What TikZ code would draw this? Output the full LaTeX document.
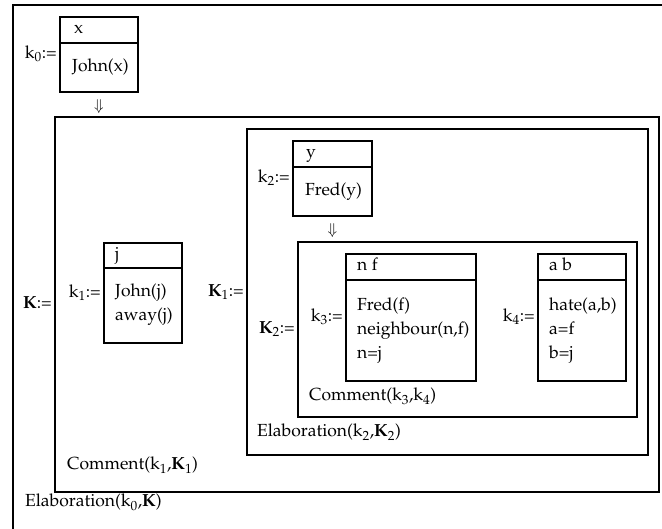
\documentclass[tikz,border=0pt]{standalone}
\usepackage[T1]{fontenc}
\usepackage{mathpazo}
\begin{document}
\begin{tikzpicture}[x=1pt,y=-1pt,
  font=\fontsize{17.5}{21}\selectfont,
  rule/.style={line width=2.6pt},
  drs/.style={draw, rule, rectangle, inner sep=0pt, outer sep=0pt, anchor=north west},
  txt/.style={inner sep=0pt, anchor=base west},
  lbl/.style={inner sep=0pt, anchor=east, text height=12.5pt, text depth=4.4pt, xshift=-3pt},
  dn/.style={inner sep=0pt, font=\fontsize{15}{18}\selectfont}]
\useasboundingbox (0,0) rectangle (662,529);
\clip (0,0) rectangle (662,529);

% outermost frame (runs off the page on the right and at the bottom)
\node[drs, minimum width=680pt, minimum height=560pt] (top) at (13,5) {};

% k0 box
\node[drs, minimum width=78pt, minimum height=75pt] (k0) at (60,17) {};
\draw[rule] ([yshift=-26pt]k0.north west) -- ([yshift=-26pt]k0.north east);
\node[txt] (k0h) at (74,34) {x};
\node[txt] (k0b1) at (72,72) {John(x)};
\node[lbl] (k0l) at (k0.west) {k$_0$:=};
\node[dn] (a0) at ([yshift=-15pt]k0.south) {$\Downarrow$};

% K box
\node[drs, minimum width=604pt, minimum height=375pt] (K) at (55,117) {};
\node[lbl] (Kl) at (K.west) {\textbf{K}:=};

% k1 box
\node[drs, minimum width=78pt, minimum height=100pt] (k1) at (104,243) {};
\draw[rule] ([yshift=-25pt]k1.north west) -- ([yshift=-25pt]k1.north east);
\node[txt] (k1h) at (115,260) {j};
\node[txt] (k1b1) at (115,297) {John(j)};
\node[txt] (k1b2) at (115,321) {away(j)};
\node[lbl] (k1l) at (k1.west) {k$_1$:=};

% K1 box
\node[drs, minimum width=401pt, minimum height=326pt] (K1) at (247,129) {};
\node[lbl] (K1l) at (K1.west) {\textbf{K}$_1$:=};

% k2 box
\node[drs, minimum width=79pt, minimum height=75pt] (k2) at (293,141) {};
\draw[rule] ([yshift=-26pt]k2.north west) -- ([yshift=-26pt]k2.north east);
\node[txt] (k2h) at (306,158) {y};
\node[txt] (k2b1) at (305,196) {Fred(y)};
\node[lbl] (k2l) at (k2.west) {k$_2$:=};
\node[dn] (a2) at ([yshift=-15pt]k2.south) {$\Downarrow$};

% K2 box
\node[drs, minimum width=339pt, minimum height=175pt] (K2) at (298,242) {};
\node[lbl] (K2l) at (K2.west) {\textbf{K}$_2$:=};

% k3 box
\node[drs, minimum width=130pt, minimum height=127pt] (k3) at (346,254) {};
\draw[rule] ([yshift=-26pt]k3.north west) -- ([yshift=-26pt]k3.north east);
\node[txt] (k3h) at (357,271) {n f};
\node[txt] (k3b1) at (357,311) {Fred(f)};
\node[txt] (k3b2) at (357,335) {neighbour(n,f)};
\node[txt] (k3b3) at (357,359) {n=j};
\node[lbl] (k3l) at (k3.west) {k$_3$:=};

% k4 box
\node[drs, minimum width=88pt, minimum height=127pt] (k4) at (538,254) {};
\draw[rule] ([yshift=-26pt]k4.north west) -- ([yshift=-26pt]k4.north east);
\node[txt] (k4h) at (549,271) {a b};
\node[txt] (k4b1) at (549,311) {hate(a,b)};
\node[txt] (k4b2) at (549,335) {a=f};
\node[txt] (k4b3) at (549,359) {b=j};
\node[lbl] (k4l) at (k4.west) {k$_4$:=};

% discourse relations
\node[txt] (r34) at (309,401) {Comment(k$_3$,k$_4$)};
\node[txt] (r2) at (257,437) {Elaboration(k$_2$,\textbf{K}$_2$)};
\node[txt] (r1) at (67,470) {Comment(k$_1$,\textbf{K}$_1$)};
\node[txt] (r0) at (25,507) {Elaboration(k$_0$,\textbf{K})};
\end{tikzpicture}
\end{document}
